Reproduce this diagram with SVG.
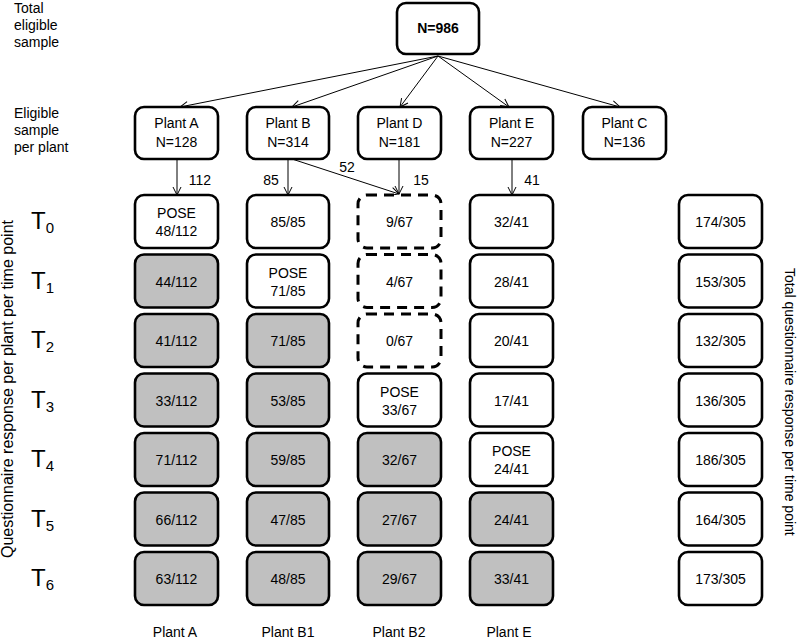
<svg xmlns="http://www.w3.org/2000/svg" width="798" height="642" viewBox="0 0 798 642">
<defs>
<marker id="ah" markerWidth="10" markerHeight="10" refX="9" refY="5" orient="auto" markerUnits="userSpaceOnUse">
<path d="M1,1 L9,5 L1,9" fill="none" stroke="#000" stroke-width="1"/>
</marker>
<style>
text{font-family:"Liberation Sans",Arial,sans-serif;font-size:14px;fill:#000}
.c{text-anchor:middle}
.box{fill:#fff;stroke:#000;stroke-width:2.6}
.g{fill:#c0c0c0}
.dash{fill:#fff;stroke:#000;stroke-width:3;stroke-dasharray:10 7}
.ln{stroke:#000;stroke-width:1;fill:none;marker-end:url(#ah)}
.t{font-size:24px}
.sub{font-size:15px}
</style>
</defs>
<rect width="798" height="642" fill="#fff"/>

<g id="labels">
<text x="14" y="13">Total</text>
<text x="14" y="30">eligible</text>
<text x="14" y="47">sample</text>
<text x="14" y="118">Eligible</text>
<text x="14" y="135">sample</text>
<text x="14" y="152">per plant</text>
<text transform="translate(13,389) rotate(-90)" class="c" style="font-size:16px">Questionnaire response per plant per time point</text>
<text transform="translate(785,268) rotate(90)">Total questionnaire response per time point</text>
<text x="175" y="637" class="c">Plant A</text>
<text x="288" y="637" class="c">Plant B1</text>
<text x="399" y="637" class="c">Plant B2</text>
<text x="509" y="637" class="c">Plant E</text>
</g>

<g id="timepoints">
<text x="31" y="229" class="t">T<tspan class="sub" dy="4">0</tspan></text>
<text x="31" y="288.5" class="t">T<tspan class="sub" dy="4">1</tspan></text>
<text x="31" y="348" class="t">T<tspan class="sub" dy="4">2</tspan></text>
<text x="31" y="407.5" class="t">T<tspan class="sub" dy="4">3</tspan></text>
<text x="31" y="467" class="t">T<tspan class="sub" dy="4">4</tspan></text>
<text x="31" y="526.5" class="t">T<tspan class="sub" dy="4">5</tspan></text>
<text x="31" y="586" class="t">T<tspan class="sub" dy="4">6</tspan></text>
</g>

<g id="connectors">
<line class="ln" x1="438" y1="56" x2="180" y2="107"/>
<line class="ln" x1="438" y1="56" x2="292" y2="107"/>
<line class="ln" x1="438" y1="56" x2="400" y2="107"/>
<line class="ln" x1="438" y1="56" x2="509" y2="107"/>
<line class="ln" x1="438" y1="56" x2="620" y2="107"/>
<line class="ln" x1="177" y1="159" x2="177" y2="195"/>
<line class="ln" x1="288" y1="159" x2="288" y2="195"/>
<line class="ln" x1="292" y1="159" x2="399" y2="194"/>
<line class="ln" x1="399" y1="159" x2="399" y2="194"/>
<line class="ln" x1="512" y1="159" x2="512" y2="195"/>
<text x="200" y="185" class="c">112</text>
<text x="271" y="185" class="c">85</text>
<text x="347" y="172" class="c">52</text>
<text x="421" y="185" class="c">15</text>
<text x="532" y="185" class="c">41</text>
</g>

<g id="total">
<rect class="box" x="397" y="3" width="82" height="51" rx="9"/>
<text x="438" y="33" class="c" font-weight="bold">N=986</text>
</g>

<g id="plantA"><rect class="box" x="135" y="107" width="83" height="52" rx="9"/><text x="176.5" y="128" class="c">Plant A</text><text x="176.5" y="147" class="c">N=128</text></g>
<g id="plantB"><rect class="box" x="247" y="107" width="82" height="52" rx="9"/><text x="288" y="128" class="c">Plant B</text><text x="288" y="147" class="c">N=314</text></g>
<g id="plantD"><rect class="box" x="358" y="107" width="83" height="52" rx="9"/><text x="399.5" y="128" class="c">Plant D</text><text x="399.5" y="147" class="c">N=181</text></g>
<g id="plantE"><rect class="box" x="470" y="107" width="83" height="52" rx="9"/><text x="511.5" y="128" class="c">Plant E</text><text x="511.5" y="147" class="c">N=227</text></g>
<g id="plantC"><rect class="box" x="583" y="107" width="83" height="52" rx="9"/><text x="624.5" y="128" class="c">Plant C</text><text x="624.5" y="147" class="c">N=136</text></g>

<g id="colA">
<g id="A0"><rect class="box" x="135" y="195" width="83" height="53" rx="9"/><text x="176.5" y="218" class="c">POSE</text><text x="176.5" y="236" class="c">48/112</text></g>
<g id="A1"><rect class="box g" x="135" y="254.5" width="83" height="53" rx="9"/><text x="176.5" y="286.5" class="c">44/112</text></g>
<g id="A2"><rect class="box g" x="135" y="314" width="83" height="53" rx="9"/><text x="176.5" y="346" class="c">41/112</text></g>
<g id="A3"><rect class="box g" x="135" y="373.5" width="83" height="53" rx="9"/><text x="176.5" y="405.5" class="c">33/112</text></g>
<g id="A4"><rect class="box g" x="135" y="433" width="83" height="53" rx="9"/><text x="176.5" y="465" class="c">71/112</text></g>
<g id="A5"><rect class="box g" x="135" y="492.5" width="83" height="53" rx="9"/><text x="176.5" y="524.5" class="c">66/112</text></g>
<g id="A6"><rect class="box g" x="135" y="552" width="83" height="53" rx="9"/><text x="176.5" y="584" class="c">63/112</text></g>
</g>

<g id="colB1">
<g id="B0"><rect class="box" x="247" y="195" width="82" height="53" rx="9"/><text x="288" y="227" class="c">85/85</text></g>
<g id="B1"><rect class="box" x="247" y="254.5" width="82" height="53" rx="9"/><text x="288" y="277.5" class="c">POSE</text><text x="288" y="295.5" class="c">71/85</text></g>
<g id="B2"><rect class="box g" x="247" y="314" width="82" height="53" rx="9"/><text x="288" y="346" class="c">71/85</text></g>
<g id="B3"><rect class="box g" x="247" y="373.5" width="82" height="53" rx="9"/><text x="288" y="405.5" class="c">53/85</text></g>
<g id="B4"><rect class="box g" x="247" y="433" width="82" height="53" rx="9"/><text x="288" y="465" class="c">59/85</text></g>
<g id="B5"><rect class="box g" x="247" y="492.5" width="82" height="53" rx="9"/><text x="288" y="524.5" class="c">47/85</text></g>
<g id="B6"><rect class="box g" x="247" y="552" width="82" height="53" rx="9"/><text x="288" y="584" class="c">48/85</text></g>
</g>

<g id="colB2">
<g id="D0"><rect class="dash" x="358" y="195" width="83" height="53" rx="9"/><text x="399.5" y="227" class="c">9/67</text></g>
<g id="D1"><rect class="dash" x="358" y="254.5" width="83" height="53" rx="9"/><text x="399.5" y="286.5" class="c">4/67</text></g>
<g id="D2"><rect class="dash" x="358" y="314" width="83" height="53" rx="9"/><text x="399.5" y="346" class="c">0/67</text></g>
<g id="D3"><rect class="box" x="358" y="373.5" width="83" height="53" rx="9"/><text x="399.5" y="396.5" class="c">POSE</text><text x="399.5" y="414.5" class="c">33/67</text></g>
<g id="D4"><rect class="box g" x="358" y="433" width="83" height="53" rx="9"/><text x="399.5" y="465" class="c">32/67</text></g>
<g id="D5"><rect class="box g" x="358" y="492.5" width="83" height="53" rx="9"/><text x="399.5" y="524.5" class="c">27/67</text></g>
<g id="D6"><rect class="box g" x="358" y="552" width="83" height="53" rx="9"/><text x="399.5" y="584" class="c">29/67</text></g>
</g>

<g id="colE">
<g id="E0"><rect class="box" x="470" y="195" width="83" height="53" rx="9"/><text x="511.5" y="227" class="c">32/41</text></g>
<g id="E1"><rect class="box" x="470" y="254.5" width="83" height="53" rx="9"/><text x="511.5" y="286.5" class="c">28/41</text></g>
<g id="E2"><rect class="box" x="470" y="314" width="83" height="53" rx="9"/><text x="511.5" y="346" class="c">20/41</text></g>
<g id="E3"><rect class="box" x="470" y="373.5" width="83" height="53" rx="9"/><text x="511.5" y="405.5" class="c">17/41</text></g>
<g id="E4"><rect class="box" x="470" y="433" width="83" height="53" rx="9"/><text x="511.5" y="456" class="c">POSE</text><text x="511.5" y="474" class="c">24/41</text></g>
<g id="E5"><rect class="box g" x="470" y="492.5" width="83" height="53" rx="9"/><text x="511.5" y="524.5" class="c">24/41</text></g>
<g id="E6"><rect class="box g" x="470" y="552" width="83" height="53" rx="9"/><text x="511.5" y="584" class="c">33/41</text></g>
</g>

<g id="colTotal">
<g id="S0"><rect class="box" x="679" y="195" width="83" height="53" rx="9"/><text x="720.5" y="227" class="c">174/305</text></g>
<g id="S1"><rect class="box" x="679" y="254.5" width="83" height="53" rx="9"/><text x="720.5" y="286.5" class="c">153/305</text></g>
<g id="S2"><rect class="box" x="679" y="314" width="83" height="53" rx="9"/><text x="720.5" y="346" class="c">132/305</text></g>
<g id="S3"><rect class="box" x="679" y="373.5" width="83" height="53" rx="9"/><text x="720.5" y="405.5" class="c">136/305</text></g>
<g id="S4"><rect class="box" x="679" y="433" width="83" height="53" rx="9"/><text x="720.5" y="465" class="c">186/305</text></g>
<g id="S5"><rect class="box" x="679" y="492.5" width="83" height="53" rx="9"/><text x="720.5" y="524.5" class="c">164/305</text></g>
<g id="S6"><rect class="box" x="679" y="552" width="83" height="53" rx="9"/><text x="720.5" y="584" class="c">173/305</text></g>
</g>
</svg>
